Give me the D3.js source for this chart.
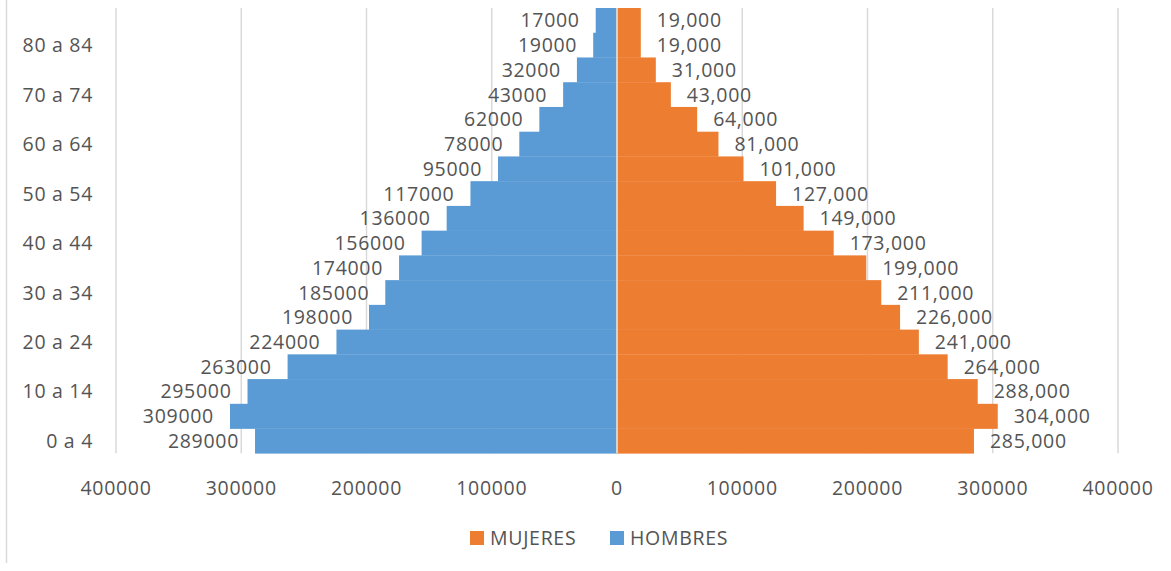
<!DOCTYPE html>
<html>
<head>
<meta charset="utf-8">
<script src="https://cdn.jsdelivr.net/npm/d3@7"></script>
<style>
    body { margin: 0; background: #fff; }
    text { font-family: "Open Sans", sans-serif; fill: #545454; letter-spacing: 0.7px; }
</style>
</head>
<body>
<div id="chart"></div>
<script>
var categories = ['0 a 4', '5 a 9', '10 a 14', '15 a 19', '20 a 24', '25 a 29', '30 a 34', '35 a 39',
    '40 a 44', '45 a 49', '50 a 54', '55 a 59', '60 a 64', '65 a 69', '70 a 74', '75 a 79', '80 a 84', '85 y más'];
var hombres = [289000, 309000, 295000, 263000, 224000, 198000, 185000, 174000, 156000,
    136000, 117000, 95000, 78000, 62000, 43000, 32000, 19000, 17000];
var mujeres = [285000, 304000, 288000, 264000, 241000, 226000, 211000, 199000, 173000,
    149000, 127000, 101000, 81000, 64000, 43000, 31000, 19000, 19000];
var xTicks = [-400000, -300000, -200000, -100000, 0, 100000, 200000, 300000, 400000];
var yTickLabels = ['0 a 4', '10 a 14', '20 a 24', '30 a 34', '40 a 44', '50 a 54', '60 a 64', '70 a 74', '80 a 84'];
var legendItems = [{name: 'MUJERES', color: '#ed7d31'}, {name: 'HOMBRES', color: '#5b9bd5'}];

function PyramidChart(divId) {

    var width = 1171;
    var height = 571;
    var plotLeft = 116, plotRight = 1118, plotTop = 8, plotBottom = 453.3;
    var fontSize = 19.5;

    var svg = d3.select('#' + divId)
        .append('svg')
        .attr('width', width)
        .attr('height', height);

    var xScale = d3.scaleLinear()
        .domain([-400000, 400000])
        .range([plotLeft, plotRight]);

    var yScale = d3.scaleBand()
        .domain(categories.slice().reverse())
        .range([plotTop, plotBottom])
        .padding(0);

    // chart area border, only the left edge shows
    svg.append('line')
        .attr('x1', 6.5).attr('x2', 6.5)
        .attr('y1', 0).attr('y2', 563)
        .attr('stroke', '#d9d9d9')
        .attr('stroke-width', 1.5);

    // gridlines
    svg.selectAll('line.grid')
        .data(xTicks.filter(function (d) { return d !== 0; }))
        .enter()
        .append('line')
        .attr('class', 'grid')
        .attr('x1', function (d) { return xScale(d); })
        .attr('x2', function (d) { return xScale(d); })
        .attr('y1', plotTop)
        .attr('y2', plotBottom)
        .attr('stroke', '#d9d9d9')
        .attr('stroke-width', 1.5);

    var rows = categories.map(function (c, i) {
        return {cat: c, h: hombres[i], m: mujeres[i]};
    });

    svg.selectAll('rect.hombres')
        .data(rows)
        .enter()
        .append('rect')
        .attr('class', 'hombres')
        .attr('x', function (d) { return xScale(-d.h); })
        .attr('width', function (d) { return xScale(0) - xScale(-d.h); })
        .attr('y', function (d) { return yScale(d.cat); })
        .attr('height', yScale.bandwidth() + 0.3)
        .attr('fill', '#5b9bd5');

    svg.selectAll('rect.mujeres')
        .data(rows)
        .enter()
        .append('rect')
        .attr('class', 'mujeres')
        .attr('x', xScale(0))
        .attr('width', function (d) { return xScale(d.m) - xScale(0); })
        .attr('y', function (d) { return yScale(d.cat); })
        .attr('height', yScale.bandwidth() + 0.3)
        .attr('fill', '#ed7d31');

    // zero axis line on top of the bars
    svg.append('line')
        .attr('x1', xScale(0)).attr('x2', xScale(0))
        .attr('y1', plotTop).attr('y2', plotBottom)
        .attr('stroke', '#d0d4d8')
        .attr('stroke-width', 2);

    // data labels
    var labelGap = 16;
    svg.selectAll('text.lh')
        .data(rows)
        .enter()
        .append('text')
        .attr('class', 'lh')
        .attr('x', function (d) { return xScale(-d.h) - labelGap; })
        .attr('y', function (d) { return yScale(d.cat) + yScale.bandwidth() / 2; })
        .attr('dy', '0.36em')
        .style('font-size', fontSize + 'px')
        .style('text-anchor', 'end')
        .text(function (d) { return d3.format('d')(d.h); });

    svg.selectAll('text.lm')
        .data(rows)
        .enter()
        .append('text')
        .attr('class', 'lm')
        .attr('x', function (d) { return xScale(d.m) + labelGap; })
        .attr('y', function (d) { return yScale(d.cat) + yScale.bandwidth() / 2; })
        .attr('dy', '0.36em')
        .style('font-size', fontSize + 'px')
        .style('text-anchor', 'start')
        .text(function (d) { return d3.format(',')(d.m); });

    // y axis labels
    svg.selectAll('text.ylab')
        .data(yTickLabels)
        .enter()
        .append('text')
        .attr('class', 'ylab')
        .attr('x', 93)
        .attr('y', function (d) { return yScale(d) + yScale.bandwidth() / 2; })
        .attr('dy', '0.36em')
        .style('font-size', fontSize + 'px')
        .style('text-anchor', 'end')
        .text(function (d) { return d; });

    // x axis labels
    svg.selectAll('text.xlab')
        .data(xTicks)
        .enter()
        .append('text')
        .attr('class', 'xlab')
        .attr('x', function (d) { return xScale(d); })
        .attr('y', 488)
        .attr('dy', '0.36em')
        .style('font-size', fontSize + 'px')
        .style('text-anchor', 'middle')
        .text(function (d) { return String(Math.abs(d)); });

    // legend
    var legend = svg.selectAll('g.legend')
        .data(legendItems)
        .enter()
        .append('g')
        .attr('class', 'legend')
        .attr('transform', function (d, i) { return 'translate(' + (470 + i * 140) + ', 538)'; });

    legend.append('rect')
        .attr('x', 0)
        .attr('y', -7)
        .attr('width', 14)
        .attr('height', 14)
        .attr('fill', function (d) { return d.color; });

    legend.append('text')
        .attr('x', 20)
        .attr('y', 0)
        .attr('dy', '0.36em')
        .style('font-size', fontSize + 'px')
        .text(function (d) { return d.name; });
}

PyramidChart('chart');
</script>
</body>
</html>
